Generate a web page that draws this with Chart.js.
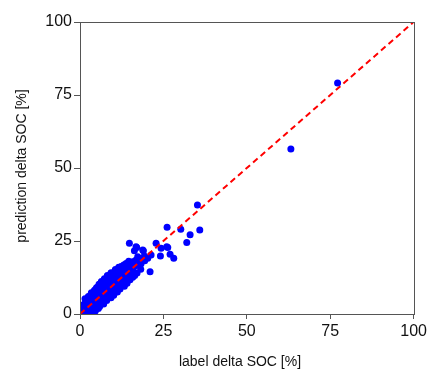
<!DOCTYPE html>
<html>
<head>
<meta charset="utf-8">
<script src="https://cdn.jsdelivr.net/npm/chart.js@4.4.1/dist/chart.umd.min.js"></script>
<style>
  body { margin: 0; background: #fff; }
  #wrap { width: 430px; height: 370px; position: relative; }
</style>
</head>
<body>
<div id="wrap"><canvas id="chart"></canvas></div>
<script>
// label (x) and predicted (y) delta SOC, in %
const labelSoc = [
  0.3, 0.9, 1.6, 2.3, 3.1, 3.9, 4.6,
  0.7, 1.4, 2.2, 3.0, 3.8, 4.7, 5.5,
  1.2, 2.0, 2.9, 3.7, 4.5, 5.4, 6.2,
  1.8, 2.7, 3.5, 4.3, 5.2, 6.0, 6.9,
  2.4, 3.3, 4.1, 5.0, 5.8, 6.7, 7.6,
  3.0, 3.9, 4.8, 5.6, 6.5, 7.3, 8.2, 9.0,
  3.7, 4.5, 5.4, 6.2, 7.1, 7.9, 8.8, 9.6,
  4.4, 5.2, 6.1, 6.9, 7.8, 8.6, 9.5, 10.3,
  5.0, 5.9, 6.7, 7.6, 8.4, 9.3, 10.1, 11.0,
  5.7, 6.5, 7.4, 8.2, 9.1, 9.9, 10.8, 11.6, 12.4,
  6.4, 7.2, 8.1, 8.9, 9.8, 10.6, 11.5, 12.3, 13.1,
  7.3, 8.0, 8.8, 9.7, 10.5, 11.4, 12.2, 13.1, 14.0,
  8.2, 9.0, 9.9, 10.7, 11.6, 12.4, 13.3, 14.1, 14.9,
  9.3, 10.2, 11.0, 11.9, 12.7, 13.6, 14.4, 15.3,
  10.6, 11.5, 12.3, 13.2, 14.0, 14.9, 15.7,
  12.3, 13.6, 14.5, 15.3, 16.2,
  13.8, 15.1, 16.0, 16.9, 17.6,
  14.6, 15.8, 16.7, 17.8,
  18.3, 19.4, 18.9,
  1.5, 2.5, 3.4, 4.2, 5.0, 5.9, 6.6, 7.5, 8.3, 9.1, 10.0, 10.9, 12.0, 13.1,
  5.9, 7.1, 8.0, 9.3, 10.1, 11.2, 12.0, 13.3, 14.1, 15.0, 15.8, 16.4, 17.1, 18.2,
  11.6, 12.3, 14.8, 15.0, 14.8, 16.8, 16.3, 19.0, 17.3, 19.3,
  20.3, 21.3, 18.8, 17.0, 21.0, 22.8, 24.1, 24.3, 26.0, 26.3,
  27.0, 28.1, 26.1, 30.2, 33.0, 35.9, 32.0, 35.2, 63.2, 77.2
];
const predSoc = [
  0.4, 1.1, 0.7, 1.3, 0.9, 1.4, 1.0,
  2.2, 1.9, 2.3, 1.8, 2.4, 2.1, 1.9,
  3.3, 3.0, 3.4, 2.9, 3.2, 3.0, 3.3,
  4.2, 4.0, 4.4, 3.9, 4.3, 4.0, 4.1,
  5.3, 5.0, 5.4, 5.1, 5.2, 4.9, 5.2,
  6.2, 6.0, 6.3, 5.9, 6.2, 6.0, 6.1, 5.8,
  7.1, 7.3, 7.0, 7.2, 6.9, 7.1, 7.0, 6.8,
  8.2, 8.0, 8.3, 7.9, 8.1, 8.2, 7.9, 7.8,
  9.1, 9.3, 9.0, 9.2, 8.9, 9.1, 9.0, 8.8,
  10.2, 10.0, 10.3, 9.9, 10.1, 10.2, 9.9, 10.0, 9.7,
  11.1, 11.3, 11.0, 11.2, 10.9, 11.1, 11.0, 11.2, 10.8,
  12.1, 12.3, 12.0, 12.2, 11.9, 12.1, 12.0, 12.2, 11.8,
  13.2, 13.0, 13.3, 12.9, 13.1, 13.2, 12.9, 13.1, 12.8,
  14.1, 14.3, 14.0, 14.2, 13.9, 14.1, 14.2, 13.8,
  15.2, 15.0, 15.3, 14.9, 15.1, 15.2, 15.0,
  16.2, 16.0, 16.3, 16.0, 16.2,
  17.3, 17.0, 17.2, 17.1, 16.6,
  18.1, 17.9, 18.4, 17.9,
  17.2, 18.2, 19.0,
  5.2, 6.0, 7.3, 7.8, 8.9, 9.4, 10.5, 11.0, 12.1, 12.6, 13.8, 14.4, 15.6, 16.8,
  2.6, 3.4, 4.6, 5.6, 6.4, 7.5, 8.6, 9.5, 10.5, 11.7, 12.6, 13.2, 14.0, 15.3,
  16.0, 16.2, 24.2, 17.4, 15.3, 23.0, 21.7, 21.7, 19.6, 19.9,
  19.1, 20.2, 21.9, 22.8, 14.5, 24.2, 19.9, 22.5, 23.0, 22.8,
  20.5, 19.1, 29.7, 29.0, 27.1, 28.8, 24.5, 37.3, 56.5, 79.1
];

// ideal prediction line
const idealX = [0, 100];
const idealY = [0, 100];

const axisMin = 0;
const axisMax = 100;
const tickStep = 25;

const axisColor = "#555555";
const fontFamily = "'Liberation Sans', Arial, sans-serif";

const points = labelSoc.map((x, i) => ({ x: x, y: predSoc[i] }));
const ideal = idealX.map((x, i) => ({ x: x, y: idealY[i] }));

// box around the plot area and the two axis titles
const framePlugin = {
  id: "frame",
  afterDraw(chart) {
    const { ctx, chartArea } = chart;
    ctx.save();
    ctx.strokeStyle = axisColor;
    ctx.lineWidth = 1;
    ctx.strokeRect(
      Math.round(chartArea.left) + 0.5,
      Math.round(chartArea.top) + 0.5,
      Math.round(chartArea.right - chartArea.left),
      Math.round(chartArea.bottom - chartArea.top)
    );

    ctx.fillStyle = "#111";
    ctx.font = "14px " + fontFamily;
    ctx.textAlign = "center";
    ctx.textBaseline = "middle";
    ctx.fillText("label delta SOC [%]", 240, 362);

    ctx.translate(22, 166);
    ctx.rotate(-Math.PI / 2);
    ctx.fillText("prediction delta SOC [%]", 0, 0);
    ctx.restore();
  },
};

const ctx = document.getElementById("chart").getContext("2d");
new Chart(ctx, {
  type: "scatter",
  data: {
    datasets: [
      {
        type: "line",
        label: "ideal",
        data: ideal,
        borderColor: "#ff0000",
        borderWidth: 2,
        borderDash: [6, 4],
        pointRadius: 0,
        fill: false,
        order: 0,
      },
      {
        label: "samples",
        data: points,
        backgroundColor: "#0000ff",
        borderColor: "#0000ff",
        borderWidth: 0,
        pointRadius: 3.5,
        order: 1,
      },
    ],
  },
  options: {
    responsive: true,
    maintainAspectRatio: false,
    animation: false,
    layout: {
      padding: { left: 0, right: 16, top: 22, bottom: 0 },
    },
    plugins: {
      legend: { display: false },
      tooltip: { enabled: false },
    },
    scales: {
      x: {
        type: "linear",
        min: axisMin,
        max: axisMax,
        afterFit: (scale) => {
          scale.height = 56;
        },
        ticks: {
          stepSize: tickStep,
          color: "#111",
          padding: 3,
          maxRotation: 0,
          font: { family: fontFamily, size: 16 },
        },
        grid: {
          drawOnChartArea: false,
          drawTicks: true,
          tickLength: 5,
          color: axisColor,
        },
        border: { display: true, color: axisColor, width: 1 },
      },
      y: {
        type: "linear",
        min: axisMin,
        max: axisMax,
        afterFit: (scale) => {
          scale.width = 80;
        },
        ticks: {
          stepSize: tickStep,
          color: "#111",
          padding: 2,
          font: { family: fontFamily, size: 16 },
        },
        grid: {
          drawOnChartArea: false,
          drawTicks: true,
          tickLength: 6,
          color: axisColor,
        },
        border: { display: true, color: axisColor, width: 1 },
      },
    },
  },
  plugins: [framePlugin],
});
</script>
</body>
</html>
